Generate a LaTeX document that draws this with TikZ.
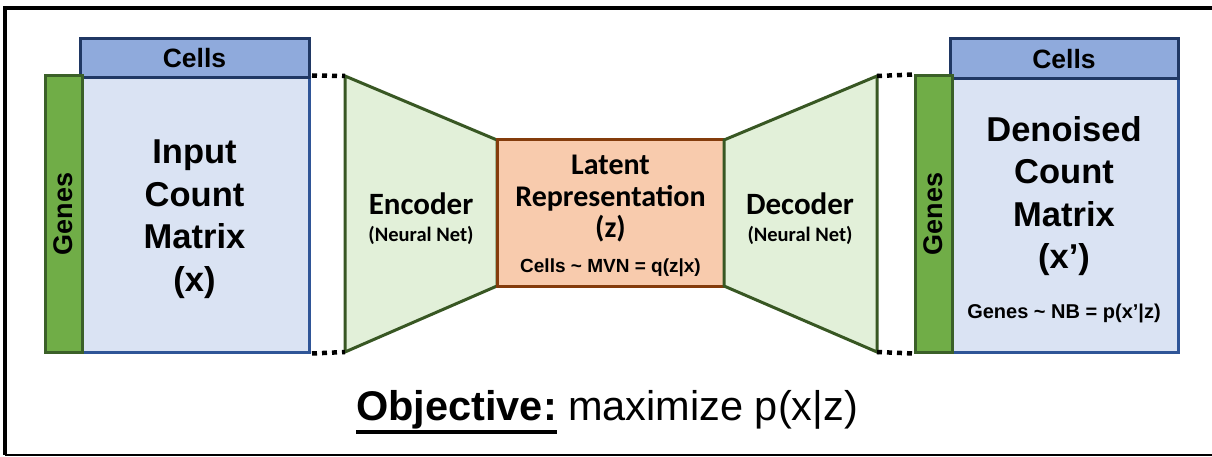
\documentclass[tikz,border=0pt]{standalone}
\usepackage{fontspec}
\setmainfont{Liberation Sans}
\newfontfamily\calfont{Carlito}
\usetikzlibrary{calc}

\definecolor{headblue}{HTML}{8FAADC}
\definecolor{headline}{HTML}{203864}
\definecolor{bodyblue}{HTML}{DAE3F3}
\definecolor{bodyline}{HTML}{2F5597}
\definecolor{genegreen}{HTML}{70AD47}
\definecolor{geneline}{HTML}{3B6028}
\definecolor{netfill}{HTML}{E2F0D9}
\definecolor{netline}{HTML}{385723}
\definecolor{latfill}{HTML}{F8CBAD}
\definecolor{latline}{HTML}{843C0C}

\tikzset{
  matbody/.style={draw=bodyline, fill=bodyblue, line width=3pt, inner sep=0pt, align=center},
  matheader/.style={draw=headline, fill=headblue, line width=3pt, inner sep=0pt,
    font=\bfseries\fontsize{26.5}{30}\selectfont},
  genebar/.style={draw=geneline, fill=genegreen, line width=3pt, inner sep=0pt, rotate=90,
    minimum width=276pt, minimum height=37pt, font=\bfseries\fontsize{27}{30}\selectfont},
  bigtext/.style={align=center, font=\bfseries\fontsize{34.5}{42.5}\selectfont},
  nettitle/.style={font=\calfont\bfseries\fontsize{31}{34}\selectfont},
  netsub/.style={font=\calfont\bfseries\fontsize{20.5}{24}\selectfont},
  netshape/.style={draw=netline, fill=netfill, line width=3pt},
  smalltext/.style={font=\bfseries\fontsize{20}{24}\selectfont},
  dotlink/.style={line width=4.5pt, dash pattern=on 5pt off 5pt},
}

\begin{document}
\begin{tikzpicture}[x=1pt, y=-1pt]
    \useasboundingbox (0,0) rectangle (1212,457);

    % Outer frame (right side cut off)
    \draw[line width=4pt] (1212,8) -- (5,8) -- (5,455);
    \draw[line width=2pt] (5,455) -- (1212,455);

    % Input count matrix
    \node[matbody, minimum width=229pt, minimum height=275pt] (inA) at (194.5,214.5) {};
    \node[bigtext] (inT) at (194.5,219) {Input\\Count\\Matrix\\(x)};
    \node[matheader, minimum width=229pt, minimum height=39pt] (cellsA) at (194.5,58.5) {Cells};
    \node[genebar] (genesA) at (63.5,214) {Genes};

    % Encoder
    \coordinate (encTL) at (345,76);
    \coordinate (encTR) at (497,140);
    \coordinate (encBR) at (497,286);
    \coordinate (encBL) at (345,352);
    \draw[netshape] (encTL) -- (encTR) -- (encBR) -- (encBL) -- cycle;
    \node[nettitle] (enc) at (421,204) {Encoder};
    \node[netsub] (encS) at (421,235) {(Neural Net)};

    % Latent representation
    \node[draw=latline, fill=latfill, line width=3pt, minimum width=227pt, minimum height=146pt] (lat) at (610.5,213) {};
    \node[align=center, font=\calfont\bfseries\fontsize{30}{31.5}\selectfont] (latT) at (610.5,199) {Latent\\Representation\\(z)};
    \node[font=\bfseries\fontsize{19}{22}\selectfont] (latS) at (610.5,268) {Cells \textasciitilde{} MVN = q(z|x)};

    % Decoder
    \coordinate (decTL) at (724,140);
    \coordinate (decTR) at (877,76);
    \coordinate (decBR) at (877,352);
    \coordinate (decBL) at (724,286);
    \draw[netshape] (decTL) -- (decTR) -- (decBR) -- (decBL) -- cycle;
    \node[nettitle] (dec) at (800,204) {Decoder};
    \node[netsub] (decS) at (800,235) {(Neural Net)};

    % Denoised count matrix
    \node[matbody, minimum width=228pt, minimum height=274pt] (outB) at (1064,215) {};
    \node[matheader, minimum width=228pt, minimum height=40pt] (cellsB) at (1064,59) {Cells};
    \node[genebar] (genesB) at (933.5,214) {Genes};
    \node[bigtext] (denT) at (1064,196) {Denoised\\Count\\Matrix\\(x')};
    \node[smalltext] (denS) at (1064,313) {Genes \textasciitilde{} NB = p(x'|z)};

    % Dotted links
    \draw[dotlink] ([xshift=1.5pt]inA.north east) -- (encTL);
    \draw[dotlink] ([xshift=1.5pt]inA.south east) -- (encBL);
    \draw[dotlink] (decTR) -- (genesB.north east);
    \draw[dotlink] (decBR) -- (genesB.north west);

    % Objective
    \node[anchor=base west, inner sep=0pt, font=\bfseries\fontsize{41.5}{48}\selectfont] (objB) at (356,420) {Objective:};
    \node[anchor=base west, inner sep=0pt, font=\fontsize{41.5}{48}\selectfont] (objN) at ([xshift=11pt]objB.base east) {maximize p(x|z)};
    \draw[line width=3.5pt] ([yshift=-12pt]objB.base west) -- ([yshift=-12pt]objB.base east);

\end{tikzpicture}
\end{document}
